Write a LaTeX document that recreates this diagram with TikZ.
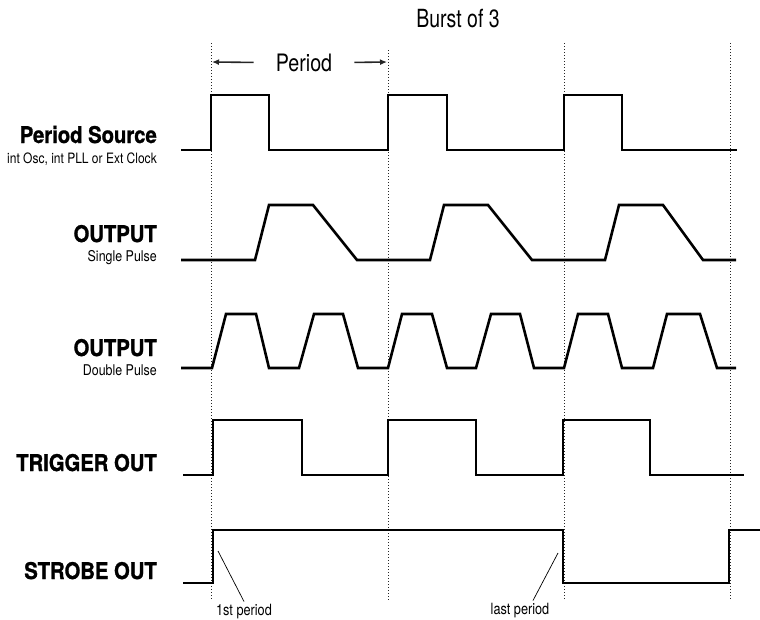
\documentclass[tikz,border=0pt]{standalone}
\usepackage{fontspec}
\setmainfont{TeX Gyre Heros}
\newfontfamily\condfont{TeX Gyre Heros}[FakeStretch=0.82]
\newfontfamily\subfont{TeX Gyre Heros}[FakeStretch=0.84]
\newfontfamily\narrowfont{TeX Gyre Heros}[FakeStretch=0.78]
\newfontfamily\boldcond{TeX Gyre Heros}[FakeStretch=0.88,FakeBold=1.2]
\usetikzlibrary{arrows.meta}
\begin{document}
\begin{tikzpicture}[x=1pt,y=-1pt,
  wave/.style={line width=2.6pt, line join=miter, line cap=butt, black},
  guide/.style={line width=0.9pt, dash pattern=on 0.9pt off 2.1pt, black!85},
  lbl/.style={anchor=base east, inner sep=0pt, font=\boldcond\bfseries\fontsize{23}{23}\selectfont},
  sub/.style={anchor=base east, inner sep=0pt, font=\subfont\fontsize{14.8}{14.8}\selectfont},
  note/.style={anchor=base, inner sep=2pt, font=\condfont\fontsize{15.5}{15.5}\selectfont},
  pointer/.style={line width=0.7pt, black},
  dim/.style={line width=1.6pt, black!85, -{Latex[length=7pt,width=6pt]}},
  head/.style={anchor=base, font=\condfont\fontsize{24}{24}\selectfont}]
\useasboundingbox (0,0) rectangle (760,619);

% guide lines
\draw[guide] (211,43) -- (211,600);
\draw[guide] (388,50) -- (388,600);
\draw[guide] (564,43) -- (564,600);
\draw[guide] (730,43) -- (730,600);

% headings
\node[head, font=\narrowfont\fontsize{25}{25}\selectfont] (burst) at (458,27) {Burst of 3};
\node[head, inner xsep=22pt, inner ysep=0pt] (period) at (304,71) {Period};
\coordinate (pl) at (212,62);
\coordinate (pr) at (387,62);
\draw[dim] (period.west) -- (pl);
\draw[dim] (period.east) -- (pr);

% labels
\node[lbl] (ps) at (157,143) {Period Source};
\node[sub, font=\subfont\fontsize{14.3}{14.3}\selectfont] (pss) at (157,163) {int Osc, int PLL or Ext Clock};
\node[lbl] (o1) at (157,242) {OUTPUT};
\node[sub] (o1s) at (157,261) {Single Pulse};
\node[lbl] (o2) at (157,356) {OUTPUT};
\node[sub] (o2s) at (157,375) {Double Pulse};
\node[lbl] (tr) at (157,471) {TRIGGER OUT};
\node[lbl] (st) at (157,579) {STROBE OUT};

% period source
\draw[wave] (181,150) -- (211,150) -- (211,95) -- (269,95) -- (269,150) -- (388,150) -- (388,95) -- (447,95) -- (447,150) -- (564,150) -- (564,95) -- (622,95) -- (622,150) -- (737,150);

% single pulse
\draw[wave] (181,260) -- (255,260) -- (269,205) -- (313,205) -- (357,260) -- (430,260) -- (444,205) -- (488,205) -- (532,260) -- (605,260) -- (619,205) -- (663,205) -- (703,260) -- (736,260);

% double pulse
\draw[wave] (181,368) -- (212,368) -- (226,314) -- (256,314) -- (269,368) -- (299,368) -- (314,314) -- (343,314) -- (358,368) -- (388,368) -- (402,314) -- (432,314) -- (447,368) -- (476,368) -- (491,314) -- (520,314) -- (534,368) -- (564,368) -- (578,314) -- (608,314) -- (622,368) -- (653,368) -- (667,314) -- (700,314) -- (717,368) -- (736,368);

% trigger out
\draw[wave] (183,475) -- (213,475) -- (213,420) -- (302,420) -- (302,475) -- (388,475) -- (388,420) -- (476,420) -- (476,475) -- (563,475) -- (563,420) -- (650,420) -- (650,475) -- (744,475);

% strobe out
\draw[wave] (183,583) -- (213,583) -- (213,530) -- (563,530) -- (563,583) -- (729,583) -- (729,530) -- (760,530);

% notes
\node[note] (first) at (244,615) {1st period};
\node[note] (last) at (520,614) {last period};
\coordinate (f1) at (218,551);
\coordinate (l1) at (558,553);
\draw[pointer] (f1) -- (first.north);
\draw[pointer] (l1) -- ([xshift=13pt]last.north);
\end{tikzpicture}
\end{document}
